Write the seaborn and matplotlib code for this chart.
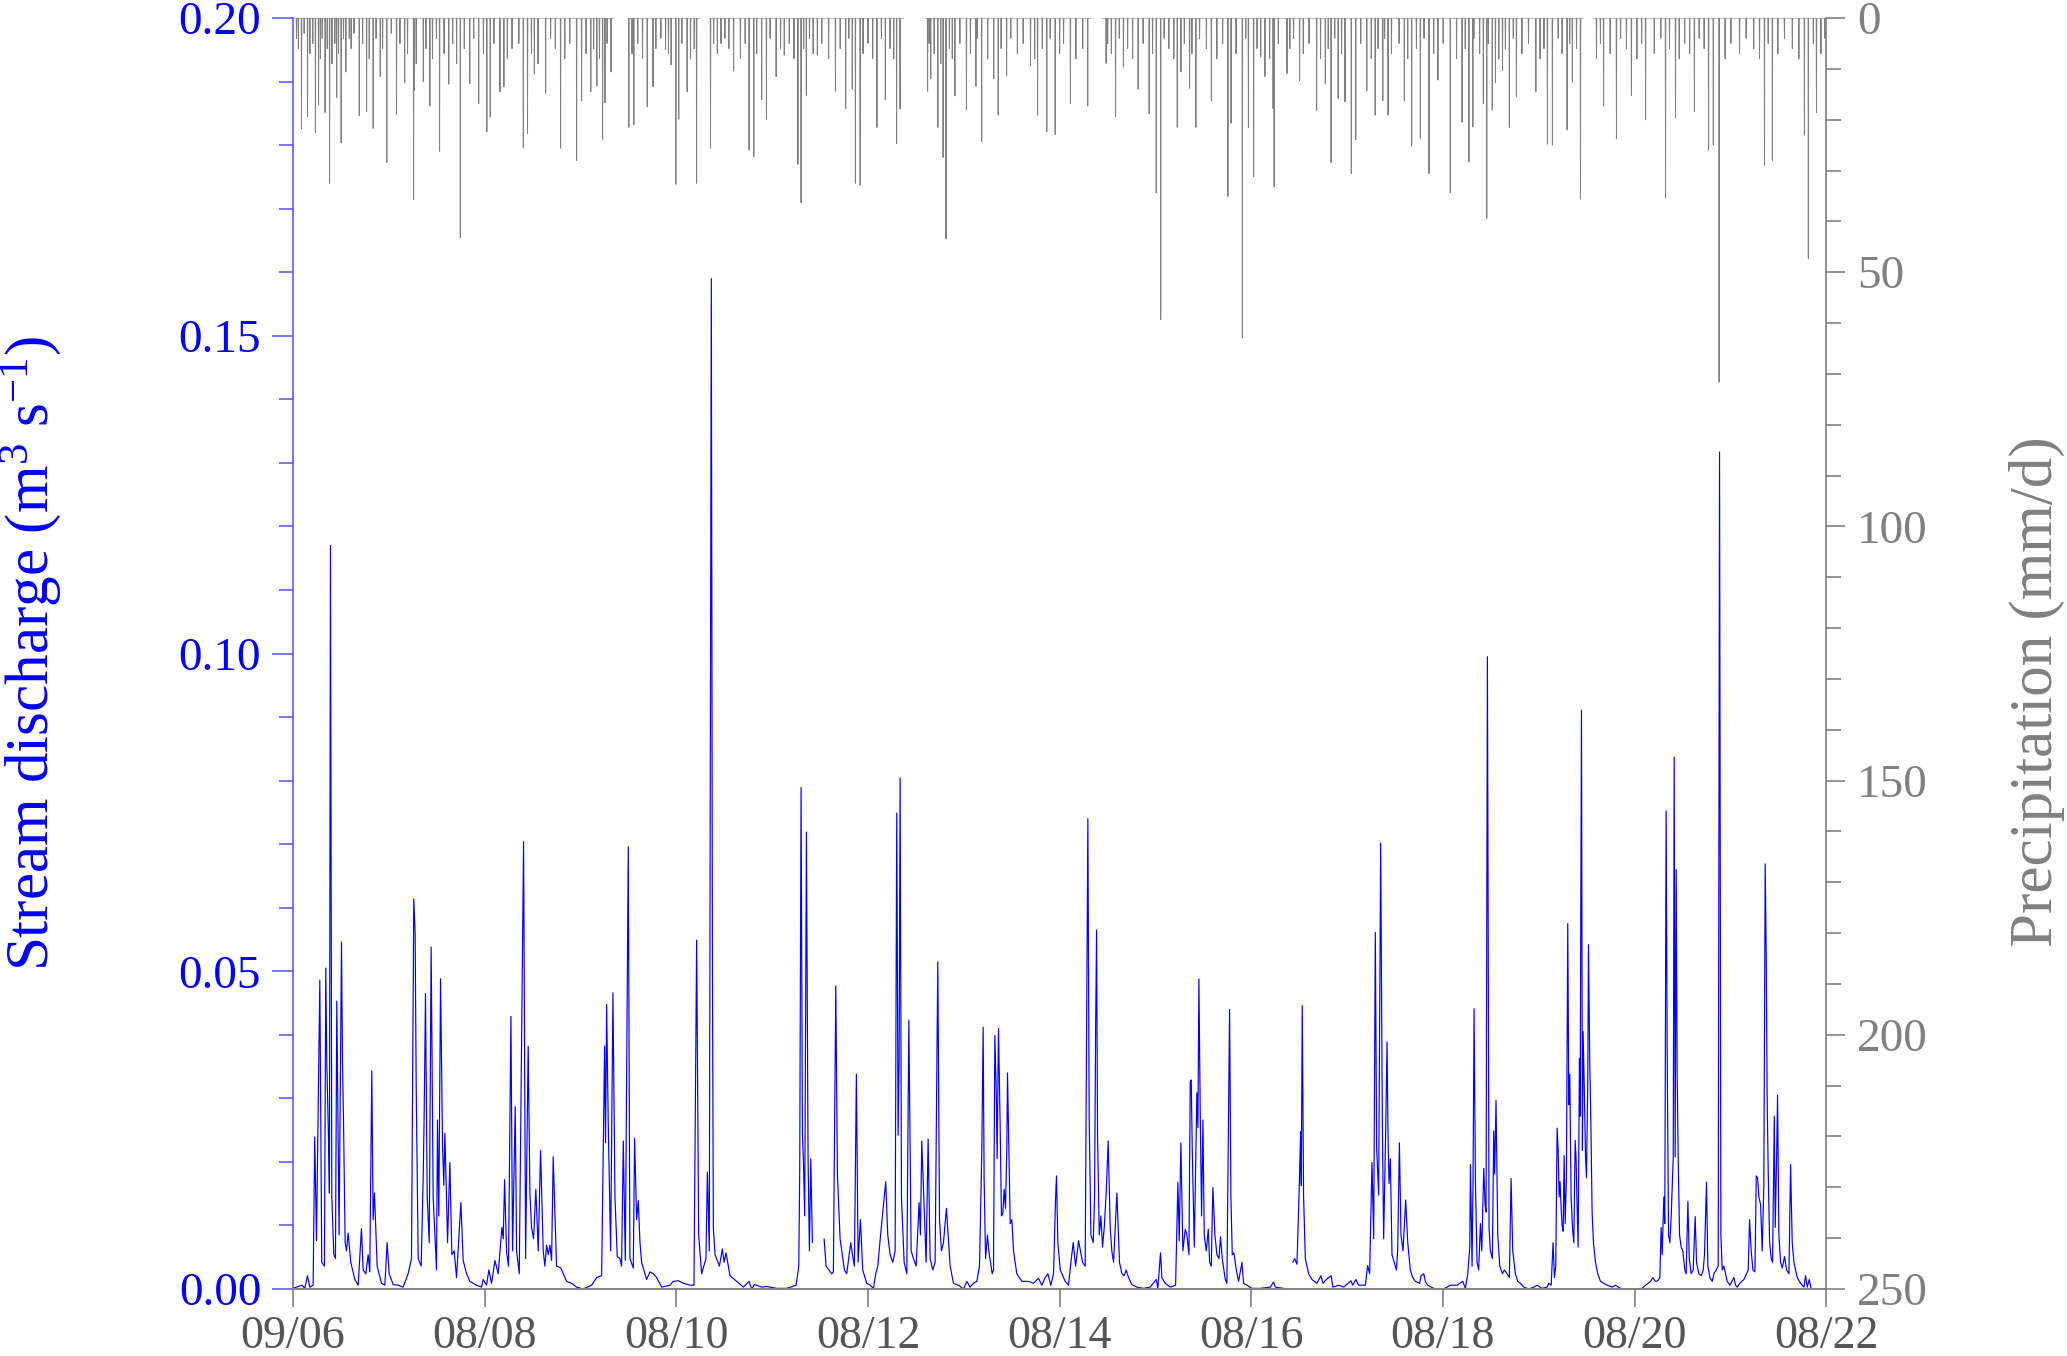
import numpy as np
import pandas as pd
import matplotlib
matplotlib.use("Agg")
from matplotlib import pyplot as plt
from matplotlib.ticker import MultipleLocator, FormatStrFormatter
import matplotlib.dates as mdates
import seaborn as sns

# stream discharge (m3/s) read off the hydrograph, time as decimal year; nan = no record
Q_YEAR = [
    2006.665, 2006.759, 2006.787, 2006.815, 2006.839, 2006.874, 2006.891, 2006.909, 2006.944, 2006.964,
    2006.992, 2007.006, 2007.017, 2007.034, 2007.044, 2007.055, 2007.069, 2007.090, 2007.107, 2007.121,
    2007.145, 2007.170, 2007.180, 2007.191, 2007.208, 2007.222, 2007.239, 2007.267, 2007.309, 2007.344,
    2007.378, 2007.396, 2007.424, 2007.448, 2007.465, 2007.486, 2007.500, 2007.514, 2007.542, 2007.587,
    2007.622, 2007.646, 2007.667, 2007.709, 2007.761, 2007.813, 2007.865, 2007.900, 2007.924, 2007.938,
    2007.949, 2007.970, 2008.001, 2008.022, 2008.032, 2008.046, 2008.064, 2008.085, 2008.105, 2008.126,
    2008.161, 2008.171, 2008.185, 2008.203, 2008.213, 2008.224, 2008.237, 2008.248, 2008.262, 2008.276,
    2008.300, 2008.321, 2008.345, 2008.370, 2008.415, 2008.439, 2008.474, 2008.509, 2008.578, 2008.631,
    2008.648, 2008.683, 2008.707, 2008.735, 2008.770, 2008.804, 2008.843, 2008.857, 2008.871, 2008.891,
    2008.912, 2008.937, 2008.954, 2008.982, 2008.996, 2009.024, 2009.069, 2009.090, 2009.117, 2009.135,
    2009.152, 2009.173, 2009.197, 2009.222, 2009.246, 2009.274, 2009.291, 2009.309, 2009.326, 2009.344,
    2009.361, 2009.378, 2009.413, 2009.458, 2009.517, 2009.570, 2009.622, 2009.691, 2009.778, 2009.831,
    2009.883, 2009.914, 2009.924, 2009.935, 2009.952, 2009.977, 2010.001, 2010.022, 2010.046, 2010.074,
    2010.091, 2010.109, 2010.130, 2010.161, 2010.178, 2010.213, 2010.227, 2010.248, 2010.265, 2010.283,
    2010.300, 2010.352, 2010.387, 2010.422, 2010.457, 2010.509, 2010.596, 2010.630, 2010.683, 2010.735,
    2010.805, 2010.846, 2010.874, 2010.895, 2010.926, 2010.971, 2010.986, 2011.006, 2011.027, 2011.038,
    2011.048, 2011.066, 2011.111, 2011.142, 2011.160, 2011.180, 2011.222, 2011.292, 2011.361, 2011.420,
    2011.448, 2011.476, 2011.552, 2011.605, 2011.709, 2011.813, 2011.911, 2011.939, 2011.949, 2011.963,
    2011.977, 2011.987, 2012.001, 2012.019, 2012.036, 2012.050, 2012.064, 2012.081, 2012.140, 2012.203,
    2012.224, 2012.283, 2012.300, 2012.325, 2012.342, 2012.370, 2012.398, 2012.415, 2012.439, 2012.481,
    2012.499, 2012.519, 2012.540, 2012.558, 2012.582, 2012.606, 2012.648, 2012.683, 2012.718, 2012.742,
    2012.763, 2012.794, 2012.846, 2012.867, 2012.892, 2012.919, 2012.944, 2012.961, 2012.975, 2012.986,
    2012.996, 2013.010, 2013.038, 2013.066, 2013.087, 2013.111, 2013.135, 2013.163, 2013.194, 2013.208,
    2013.222, 2013.267, 2013.288, 2013.309, 2013.337, 2013.361, 2013.389, 2013.407, 2013.427, 2013.448,
    2013.479, 2013.497, 2013.518, 2013.552, 2013.605, 2013.657, 2013.692, 2013.726, 2013.761, 2013.796,
    2013.824, 2013.848, 2013.862, 2013.872, 2013.887, 2013.907, 2013.921, 2013.956, 2013.970, 2013.984,
    2013.998, 2014.008, 2014.022, 2014.039, 2014.053, 2014.067, 2014.081, 2014.095, 2014.109, 2014.116,
    2014.144, 2014.161, 2014.179, 2014.213, 2014.266, 2014.335, 2014.387, 2014.439, 2014.474, 2014.509,
    2014.537, 2014.568, 2014.596, 2014.617, 2014.627, 2014.641, 2014.666, 2014.718, 2014.752, 2014.773,
    2014.801, 2014.826, 2014.857, 2014.899, 2014.926, 2014.954, 2014.968, 2014.986, 2015.010, 2015.024,
    2015.035, 2015.045, 2015.055, 2015.073, 2015.090, 2015.107, 2015.125, 2015.145, 2015.166, 2015.187,
    2015.204, 2015.222, 2015.257, 2015.284, 2015.309, 2015.333, 2015.354, 2015.378, 2015.413, 2015.465,
    2015.535, 2015.604, 2015.667, 2015.684, 2015.712, 2015.726, 2015.761, 2015.813, 2015.869, 2015.893,
    2015.907, 2015.924, 2015.945, 2015.970, 2015.987, 2016.008, 2016.022, 2016.032, 2016.043, 2016.064,
    2016.077, 2016.091, 2016.102, 2016.112, 2016.126, 2016.140, 2016.154, 2016.168, 2016.189, 2016.210,
    2016.224, 2016.241, 2016.258, 2016.279, 2016.300, 2016.321, 2016.338, 2016.356, 2016.387, 2016.404,
    2016.432, 2016.446, 2016.460, 2016.477, 2016.502, 2016.526, 2016.561, 2016.578, 2016.613, 2016.665,
    2016.752, 2016.857, 2016.891, 2016.909, 2016.996, 2017.045, 2017.093, 2017.110, 2017.135, 2017.156,
    2017.173, 2017.180, 2017.190, 2017.204, 2017.222, 2017.257, 2017.291, 2017.343, 2017.385, 2017.406,
    2017.441, 2017.490, 2017.510, 2017.570, 2017.622, 2017.698, 2017.716, 2017.750, 2017.778, 2017.848,
    2017.872, 2017.893, 2017.917, 2017.935, 2017.952, 2017.966, 2017.987, 2018.008, 2018.025, 2018.039,
    2018.060, 2018.074, 2018.085, 2018.095, 2018.109, 2018.126, 2018.144, 2018.172, 2018.185, 2018.203,
    2018.220, 2018.241, 2018.269, 2018.290, 2018.317, 2018.342, 2018.370, 2018.415, 2018.429, 2018.457,
    2018.474, 2018.498, 2018.561, 2018.665, 2018.735, 2018.805, 2018.864, 2018.891, 2018.916, 2018.937,
    2018.944, 2018.961, 2018.971, 2018.982, 2018.996, 2019.013, 2019.030, 2019.048, 2019.062, 2019.083,
    2019.097, 2019.107, 2019.121, 2019.138, 2019.152, 2019.173, 2019.187, 2019.197, 2019.211, 2019.229,
    2019.250, 2019.278, 2019.298, 2019.326, 2019.350, 2019.368, 2019.385, 2019.413, 2019.437, 2019.465,
    2019.500, 2019.552, 2019.605, 2019.639, 2019.692, 2019.744, 2019.761, 2019.786, 2019.806, 2019.820,
    2019.834, 2019.848, 2019.859, 2019.869, 2019.879, 2019.890, 2019.900, 2019.911, 2019.921, 2019.932,
    2019.945, 2019.959, 2019.970, 2019.980, 2019.994, 2020.008, 2020.022, 2020.036, 2020.046, 2020.057,
    2020.067, 2020.081, 2020.088, 2020.102, 2020.112, 2020.119, 2020.130, 2020.144, 2020.154, 2020.168,
    2020.175, 2020.189, 2020.199, 2020.213, 2020.227, 2020.248, 2020.272, 2020.300, 2020.335, 2020.370,
    2020.422, 2020.457, 2020.509, 2020.613, 2020.735, 2020.770, 2020.822, 2020.846, 2020.874, 2020.898,
    2020.919, 2020.933, 2020.944, 2020.961, 2020.971, 2020.985, 2020.996, 2021.010, 2021.024, 2021.038,
    2021.059, 2021.069, 2021.079, 2021.090, 2021.100, 2021.111, 2021.125, 2021.142, 2021.159, 2021.180,
    2021.194, 2021.212, 2021.226, 2021.246, 2021.267, 2021.288, 2021.302, 2021.326, 2021.351, 2021.372,
    2021.385, 2021.406, 2021.420, 2021.441, 2021.466, 2021.483, 2021.507, 2021.528, 2021.542, 2021.556,
    2021.570, 2021.587, 2021.605, 2021.622, 2021.650, 2021.692, 2021.709, 2021.726, 2021.754, 2021.796,
    2021.824, 2021.841, 2021.855, 2021.872, 2021.890, 2021.911, 2021.925, 2021.939, 2021.952, 2021.970,
    2021.987, 2022.004, 2022.018, 2022.029, 2022.039, 2022.050, 2022.064, 2022.081, 2022.095, 2022.113,
    2022.123, 2022.137, 2022.147, 2022.161, 2022.179, 2022.196, 2022.220, 2022.241, 2022.266, 2022.283,
    2022.300, 2022.318, 2022.352, 2022.387, 2022.422, 2022.439, 2022.457, 2022.477, 2022.498,
]
Q_VALUE = [
    0.0001, 0.0006, 0.0001, 0.0021, 0.0003, 0.0006, 0.0239, 0.0076, 0.0486, 0.0042,
    0.0036, 0.0505, 0.0353, 0.0242, 0.0151, 0.117, 0.0145, 0.0054, 0.0048, 0.0453,
    0.0085, 0.0546, 0.036, 0.0266, 0.0073, 0.006, 0.0088, 0.0042, 0.0015, 0.0006,
    0.0095, 0.003, 0.0024, 0.0054, 0.0027, 0.0343, 0.0109, 0.0151, 0.0036, 0.0009,
    0.0006, 0.0073, 0.0024, 0.0007, 0.0006, 0.0003, 0.0024, 0.0048, 0.0614, 0.056,
    0.032, 0.0048, 0.0036, 0.0175, 0.0272, 0.0465, 0.0145, 0.0073, 0.0538, 0.0145,
    0.003, 0.0266, 0.0115, 0.0488, 0.0363, 0.0224, 0.0163, 0.0245, 0.0163, 0.0073,
    0.0199, 0.0054, 0.006, 0.0018, 0.0136, 0.0045, 0.0024, 0.0012, 0.0006, 0.0003,
    0.0015, 0.0006, 0.003, 0.0009, 0.0045, 0.0024, 0.0097, 0.0079, 0.0172, 0.006,
    0.0036, 0.0429, 0.006, 0.0287, 0.006, 0.0024, 0.0704, 0.0048, 0.0382, 0.0151,
    0.0097, 0.0079, 0.0157, 0.006, 0.0218, 0.006, 0.0036, 0.0069, 0.0054, 0.0069,
    0.0045, 0.0208, 0.0036, 0.0033, 0.0012, 0.0009, 0.0003, 0.0, 0.0006, 0.0018,
    0.0021, 0.0382, 0.023, 0.0448, 0.026, 0.006, 0.0466, 0.0145, 0.0051, 0.0048,
    0.0036, 0.0233, 0.0045, 0.0696, 0.0048, 0.0033, 0.0237, 0.0109, 0.0139, 0.0073,
    0.0042, 0.0015, 0.0027, 0.0024, 0.0018, 0.0003, 0.0006, 0.0012, 0.0013, 0.0009,
    0.0006, 0.0006, 0.0549, 0.0085, 0.0024, 0.0048, 0.0184, 0.006, 0.159, 0.0541,
    0.0097, 0.0054, 0.0036, 0.0063, 0.0042, 0.0057, 0.0021, 0.0012, 0.0003, 0.0012,
    0.0, 0.0007, 0.0003, 0.0004, 0.0001, 0.0001, 0.0006, 0.0036, 0.0187, 0.0789,
    0.0245, 0.0205, 0.0115, 0.0719, 0.0205, 0.006, 0.0205, 0.0073, np.nan, 0.0079,
    0.0036, 0.0024, 0.0027, 0.0477, 0.0181, 0.0079, 0.0048, 0.003, 0.0024, 0.0073,
    0.0054, 0.0036, 0.0338, 0.0042, 0.0109, 0.003, 0.0009, 0.0006, 0.0001, 0.0024,
    0.0036, 0.0088, 0.0169, 0.0085, 0.0054, 0.0042, 0.006, 0.0749, 0.0242, 0.0366,
    0.0804, 0.0145, 0.0042, 0.0024, 0.0423, 0.006, 0.0048, 0.0036, 0.0136, 0.0085,
    0.0233, 0.0042, 0.0236, 0.0048, 0.003, 0.0042, 0.0515, 0.0109, 0.006, 0.0073,
    0.0127, 0.0085, 0.0036, 0.0009, 0.0006, 0.0, 0.0012, 0.0003, 0.0009, 0.0012,
    0.0036, 0.0218, 0.0412, 0.0175, 0.0048, 0.0085, 0.006, 0.0024, 0.003, 0.0399,
    0.0314, 0.0205, 0.041, 0.026, 0.0115, 0.0118, 0.0157, 0.0127, 0.0224, 0.034,
    0.0103, 0.0109, 0.006, 0.0024, 0.0012, 0.0012, 0.0009, 0.0017, 0.0006, 0.0018,
    0.0024, 0.0006, 0.0024, 0.0142, 0.0178, 0.0073, 0.003, 0.0012, 0.0006, 0.0036,
    0.0073, 0.0036, 0.0076, 0.0042, 0.0036, 0.074, 0.0266, 0.0085, 0.0073, 0.0145,
    0.0411, 0.0565, 0.0242, 0.0085, 0.0115, 0.0066, 0.0097, 0.0151, 0.0233, 0.0097,
    0.006, 0.0042, 0.0151, 0.0042, 0.0024, 0.0021, 0.003, 0.0018, 0.0007, 0.0003,
    0.0001, 0.0003, 0.0015, 0.0001, 0.0057, 0.0018, 0.0009, 0.0003, 0.0006, 0.0168,
    0.0076, 0.023, 0.006, 0.0094, 0.0085, 0.0054, 0.0326, 0.0329, 0.0218, 0.0066,
    0.0181, 0.0309, 0.0254, 0.0488, 0.0278, 0.0115, 0.0266, 0.0085, 0.006, 0.0094,
    0.0042, 0.0036, 0.016, 0.0085, 0.0054, 0.0048, 0.0082, 0.0048, 0.0015, 0.0009,
    0.044, 0.0145, 0.0054, 0.0057, 0.003, 0.0012, 0.0042, 0.0009, 0.0006, 0.0001,
    0.0001, 0.0003, 0.0011, 0.0003, 0.0001, np.nan, 0.0042, 0.0048, 0.0039, 0.0145,
    0.0248, 0.0163, 0.0446, 0.0145, 0.0048, 0.0024, 0.0015, 0.0009, 0.0021, 0.0009,
    0.0015, 0.0021, 0.0003, 0.0006, 0.0003, 0.0013, 0.0006, 0.0015, 0.0006, 0.0006,
    0.0037, 0.0024, 0.0199, 0.0079, 0.0561, 0.0221, 0.0148, 0.0702, 0.0266, 0.0079,
    0.0248, 0.0389, 0.0236, 0.0166, 0.0205, 0.0054, 0.0045, 0.003, 0.006, 0.023,
    0.0085, 0.006, 0.014, 0.0073, 0.003, 0.0018, 0.0012, 0.0009, 0.0021, 0.0024,
    0.0012, 0.0006, 0.0001, 0.0, 0.0006, 0.0006, 0.0012, 0.0001, 0.0024, 0.0066,
    0.0196, 0.0036, 0.0169, 0.0441, 0.0169, 0.0042, 0.003, 0.0103, 0.006, 0.019,
    0.0133, 0.0121, 0.0995, 0.0097, 0.006, 0.0048, 0.0249, 0.0181, 0.0297, 0.0085,
    0.0036, 0.0024, 0.003, 0.0024, 0.0018, 0.0174, 0.006, 0.0024, 0.0012, 0.0009,
    0.0003, 0.0, 0.0003, 0.0006, 0.0001, 0.0003, 0.0009, 0.0006, 0.0073, 0.0018,
    0.0036, 0.0253, 0.0218, 0.0145, 0.0169, 0.0127, 0.01, 0.0091, 0.021, 0.0103,
    0.0175, 0.0575, 0.029, 0.0338, 0.0145, 0.0097, 0.0073, 0.0234, 0.0205, 0.0127,
    0.0066, 0.0363, 0.0272, 0.0911, 0.0218, 0.0405, 0.0326, 0.0211, 0.0175, 0.0326,
    0.0542, 0.0353, 0.0272, 0.0121, 0.0073, 0.0042, 0.0024, 0.0012, 0.0009, 0.0006,
    0.0003, 0.0006, 0.0001, 0.0, 0.0001, 0.0006, 0.0012, 0.0018, 0.0012, 0.0013,
    0.0018, 0.0097, 0.0054, 0.0145, 0.0103, 0.0752, 0.0369, 0.0085, 0.0073, 0.0115,
    0.0208, 0.0837, 0.0208, 0.066, 0.0338, 0.0205, 0.0085, 0.0066, 0.006, 0.003,
    0.0024, 0.0138, 0.0048, 0.0024, 0.003, 0.0114, 0.0042, 0.0024, 0.0021, 0.003,
    0.0054, 0.0168, 0.0036, 0.0018, 0.0012, 0.0024, 0.003, 0.0036, 0.1317, 0.0085,
    0.003, 0.0036, 0.0024, 0.0012, 0.0006, 0.0018, 0.0006, 0.0003, 0.0009, 0.0015,
    0.0024, 0.003, 0.0109, 0.006, 0.003, 0.0027, 0.0178, 0.0175, 0.0145, 0.0133,
    0.006, 0.0163, 0.0669, 0.052, 0.0296, 0.0181, 0.0073, 0.0048, 0.0042, 0.0272,
    0.0097, 0.0205, 0.0305, 0.0085, 0.0042, 0.0033, 0.0051, 0.003, 0.0024, 0.0196,
    0.0073, 0.0042, 0.0018, 0.0009, 0.0003, 0.0021, 0.0003, 0.0015, 0.0,
]

# daily precipitation (mm/d), the rain days that stand out
P_YEAR = [
    2006.753, 2006.817, 2006.899, 2006.931, 2007.000, 2007.045, 2007.121, 2007.167, 2007.215, 2007.251,
    2007.354, 2007.431, 2007.500, 2007.573, 2007.642, 2007.743, 2007.828, 2007.921, 2007.930, 2008.023,
    2008.091, 2008.194, 2008.288, 2008.409, 2008.507, 2008.600, 2008.685, 2008.722, 2008.823, 2008.864,
    2009.067, 2009.111, 2009.181, 2009.298, 2009.456, 2009.623, 2009.675, 2009.769, 2009.834, 2009.894,
    2009.919, 2009.980, 2010.167, 2010.220, 2010.358, 2010.418, 2010.549, 2010.609, 2010.658, 2010.686,
    2010.776, 2010.873, 2011.019, 2011.129, 2011.259, 2011.421, 2011.470, 2011.552, 2011.601, 2011.702,
    2011.787, 2011.929, 2011.962, 2012.018, 2012.132, 2012.323, 2012.428, 2012.498, 2012.530, 2012.578,
    2012.754, 2012.843, 2012.960, 2012.995, 2013.284, 2013.316, 2013.390, 2013.445, 2013.474, 2013.568,
    2013.688, 2013.787, 2013.848, 2013.972, 2014.018, 2014.108, 2014.356, 2014.431, 2014.526, 2014.612,
    2014.773, 2014.954, 2015.144, 2015.244, 2015.326, 2015.478, 2015.594, 2015.668, 2015.714, 2015.886,
    2015.924, 2016.015, 2016.081, 2016.241, 2016.416, 2016.448, 2016.564, 2016.629, 2016.684, 2016.758,
    2016.802, 2016.886, 2016.898, 2017.030, 2017.162, 2017.340, 2017.431, 2017.492, 2017.566, 2017.636,
    2017.702, 2017.748, 2017.864, 2017.950, 2018.029, 2018.086, 2018.255, 2018.330, 2018.421, 2018.512,
    2018.606, 2018.734, 2018.858, 2018.928, 2018.969, 2019.080, 2019.114, 2019.171, 2019.205, 2019.278,
    2019.349, 2019.424, 2019.626, 2019.748, 2019.800, 2019.951, 2020.008, 2020.091, 2020.332, 2020.467,
    2020.624, 2020.770, 2020.979, 2021.083, 2021.281, 2021.427, 2021.476, 2021.538, 2022.011, 2022.094,
    2022.428, 2022.469, 2022.553,
]
P_MM = [
    21.7, 19.4, 22.5, 17.0, 18.6, 32.5, 15.6, 24.5, 10.6, 4.0,
    19.2, 18.4, 21.7, 11.5, 28.4, 18.9, 12.7, 35.7, 14.2, 12.5,
    17.3, 26.2, 13.0, 43.2, 12.9, 16.8, 22.4, 19.5, 14.5, 13.5,
    25.5, 22.7, 11.0, 14.8, 25.6, 28.0, 16.3, 14.5, 13.4, 23.9,
    16.7, 10.6, 21.5, 21.0, 17.4, 13.5, 6.2, 9.2, 32.7, 19.9,
    14.5, 32.5, 25.6, 5.0, 10.4, 26.0, 27.3, 16.1, 19.9, 11.5,
    7.3, 28.8, 36.3, 15.2, 7.3, 14.4, 17.8, 14.0, 32.5, 32.9,
    21.5, 16.1, 24.7, 17.9, 14.4, 11.9, 21.5, 27.4, 43.4, 15.3,
    18.1, 13.4, 24.3, 11.9, 19.1, 11.4, 9.4, 19.1, 22.4, 22.9,
    16.8, 17.3, 8.9, 19.4, 9.6, 14.0, 18.8, 34.4, 59.3, 21.5,
    10.6, 13.8, 21.5, 16.3, 35.1, 20.7, 62.9, 21.5, 31.2, 7.6,
    11.5, 17.8, 33.2, 10.9, 12.3, 18.2, 12.9, 28.4, 15.8, 16.5,
    30.6, 23.9, 14.3, 19.1, 16.3, 19.1, 16.3, 25.1, 23.7, 30.6,
    12.2, 34.4, 20.5, 28.3, 21.4, 16.8, 39.4, 18.1, 12.7, 10.3,
    21.5, 15.4, 14.5, 24.8, 25.0, 22.0, 12.5, 35.6, 17.2, 23.7,
    15.2, 20.0, 35.4, 19.6, 18.4, 26.0, 25.0, 71.6, 29.0, 28.0,
    23.0, 47.3, 18.6,
]

# the light rain days that fill the band under the zero line
P_LIGHT_YEAR = [
    2006.70, 2006.72, 2006.78, 2006.84, 2006.87, 2006.95, 2006.97,
    2007.02, 2007.07, 2007.10, 2007.14, 2007.19, 2007.27, 2007.30, 2007.39, 2007.46, 2007.53,
    2007.60, 2007.69, 2007.78, 2007.86, 2007.95,
    2008.05, 2008.12, 2008.16, 2008.24, 2008.33, 2008.37, 2008.45, 2008.55, 2008.65, 2008.76,
    2008.90, 2008.95,
    2009.02, 2009.15, 2009.22, 2009.35, 2009.40, 2009.50, 2009.55, 2009.72, 2009.80, 2009.86, 2009.94,
    2010.20, 2010.26, 2010.31, 2010.45, 2010.50, 2010.58, 2010.72, 2010.81, 2010.85,
    2011.05, 2011.09, 2011.17, 2011.21, 2011.33, 2011.38, 2011.50, 2011.64, 2011.75, 2011.84,
    2011.89, 2011.99,
    2012.05, 2012.09, 2012.18, 2012.25, 2012.37, 2012.46, 2012.61, 2012.66, 2012.71, 2012.80,
    2012.89, 2012.93,
    2013.30, 2013.35, 2013.42, 2013.51, 2013.54, 2013.62, 2013.73, 2013.80, 2013.91,
    2014.05, 2014.15, 2014.22, 2014.28, 2014.40, 2014.48, 2014.56, 2014.66, 2014.70, 2014.83, 2014.90,
    2015.16, 2015.20, 2015.28, 2015.37, 2015.42, 2015.53, 2015.63, 2015.75, 2015.80, 2015.85, 2015.96,
    2016.04, 2016.12, 2016.19, 2016.30, 2016.36, 2016.50, 2016.60, 2016.72, 2016.85, 2016.94,
    2017.06, 2017.10, 2017.20, 2017.26, 2017.38, 2017.46, 2017.53, 2017.60, 2017.80, 2017.91, 2017.98,
    2018.05, 2018.12, 2018.20, 2018.29, 2018.38, 2018.46, 2018.56, 2018.66, 2018.80, 2018.89, 2018.98,
    2019.04, 2019.13, 2019.24, 2019.31, 2019.39, 2019.48, 2019.55, 2019.67, 2019.71, 2019.86,
    2019.90, 2019.98,
    2020.05, 2020.26, 2020.30, 2020.40, 2020.51, 2020.57, 2020.68, 2020.73, 2020.86, 2020.93,
    2021.02, 2021.12, 2021.18, 2021.23, 2021.33, 2021.38, 2021.60, 2021.66, 2021.75, 2021.82,
    2021.90, 2021.96,
    2022.05, 2022.15, 2022.22, 2022.30, 2022.37, 2022.52, 2022.60, 2022.64,
]
P_LIGHT_MM = [
    4, 6, 3, 7, 5, 8, 4,
    6, 9, 5, 7, 4, 6, 3, 5, 8, 4,
    6, 3, 5, 7, 9,
    6, 8, 4, 7, 5, 9, 6, 4, 7, 5,
    8, 6,
    5, 7, 9, 4, 6, 8, 5, 7, 6, 8, 5,
    7, 5, 8, 6, 4, 7, 5, 8, 6,
    5, 7, 4, 6, 8, 5, 7, 4, 6, 5,
    8, 6,
    4, 7, 5, 8, 6, 4, 7, 5, 8, 4,
    6, 8,
    5, 7, 9, 6, 8, 5, 7, 4, 8,
    6, 4, 7, 5, 8, 6, 4, 7, 5, 8, 6,
    5, 7, 4, 6, 8, 5, 7, 4, 6, 8, 5,
    7, 4, 6, 8, 5, 7, 4, 6, 8, 5,
    6, 4, 7, 5, 8, 6, 4, 7, 5, 8, 6,
    4, 7, 5, 8, 6, 4, 7, 5, 8, 6, 4,
    7, 5, 8, 6, 4, 7, 5, 8, 6, 4,
    7, 5,
    6, 8, 5, 7, 4, 6, 8, 5, 7, 4,
    6, 8, 5, 7, 4, 6, 8, 5, 7, 4,
    6, 8,
    5, 7, 4, 6, 8, 5, 7, 4,
]

# spans with no precipitation record
P_GAP_START = [2010.008, 2010.909, 2013.035, 2014.988, 2020.123]
P_GAP_END = [2010.154, 2011.008, 2013.255, 2015.098, 2020.228]

START = pd.Timestamp("2006-09-01")
N_DAYS = 5840
TICK_DAYS = 730

BLUE = "#0000ff"
AXIS_BLUE = "#5f5fff"
GREY = "#808080"
DARK_GREY = "#555555"


def to_date(years):
    years = np.asarray(years, dtype=float)
    return pd.Timestamp("2006-01-01") + pd.to_timedelta((years - 2006.0) * 365.25, unit="D")


def with_segments(df, col):
    # a new segment after each missing value, so lines break at gaps
    df = df.copy()
    df["seg"] = df[col].isna().cumsum()
    return df.dropna(subset=[col])


# discharge table
q_df = pd.DataFrame({"date": to_date(Q_YEAR), "q": Q_VALUE})
q_df = with_segments(q_df, "q")

# daily precipitation table
days = pd.date_range(START, START + pd.Timedelta(days=N_DAYS), freq="D")
precip = pd.Series(0.0, index=days)
events = pd.DataFrame({
    "date": to_date(list(P_YEAR) + list(P_LIGHT_YEAR)).round("D"),
    "mm": list(P_MM) + list(P_LIGHT_MM),
}).groupby("date")["mm"].max()
events = events[events.index.isin(precip.index)]
precip.loc[events.index] = events.values
for g0, g1 in zip(P_GAP_START, P_GAP_END):
    precip[(precip.index > to_date(g0)) & (precip.index < to_date(g1))] = np.nan
p_df = with_segments(precip.rename("p").rename_axis("date").reset_index(), "p")

sns.set_theme(style="ticks")
plt.rcParams["font.family"] = ["Liberation Serif", "DejaVu Serif"]
plt.rcParams["mathtext.fontset"] = "custom"
plt.rcParams["mathtext.rm"] = "Liberation Serif"
plt.rcParams["mathtext.it"] = "Liberation Serif:italic"

fig = plt.figure(figsize=(20.67, 13.56), dpi=100)
ax = fig.add_axes([0.1418, 0.0494, 0.7417, 0.9373])
ax2 = ax.twinx()

sns.lineplot(data=q_df, x="date", y="q", units="seg", estimator=None,
             color=BLUE, linewidth=0.85, ax=ax, legend=False)
sns.lineplot(data=p_df, x="date", y="p", units="seg", estimator=None,
             color=GREY, linewidth=0.7, ax=ax2, legend=False)

# x axis: one tick every 730 days from the first day
ax.set_xlim(START, START + pd.Timedelta(days=N_DAYS))
ax.set_xticks([START + pd.Timedelta(days=TICK_DAYS * k) for k in range(N_DAYS // TICK_DAYS + 1)])
ax.xaxis.set_major_formatter(mdates.DateFormatter("%m/%y"))
ax.set_xlabel("")
ax.tick_params(axis="x", length=13, width=1.2, color=GREY, labelcolor=DARK_GREY,
               labelsize=33, pad=6)

# left axis: discharge
ax.set_ylim(0, 0.2)
ax.yaxis.set_major_locator(MultipleLocator(0.05))
ax.yaxis.set_minor_locator(MultipleLocator(0.01))
ax.yaxis.set_major_formatter(FormatStrFormatter("%.2f"))
ax.tick_params(axis="y", which="major", length=15, width=1.2, color=AXIS_BLUE,
               labelcolor=BLUE, labelsize=34, pad=8)
ax.tick_params(axis="y", which="minor", length=10, width=1.2, color=AXIS_BLUE)
ax.set_ylabel(r"Stream discharge (m$^{3}$ s$^{\mathrm{-}1}$)", color=BLUE, fontsize=44)
ax.yaxis.set_label_coords(-0.150, 0.5)

# right axis: precipitation, hanging from the top
ax2.set_ylim(250, 0)
ax2.yaxis.set_major_locator(MultipleLocator(50))
ax2.yaxis.set_minor_locator(MultipleLocator(10))
ax2.tick_params(axis="y", which="major", length=14, width=1.2, color=GREY,
                labelcolor=GREY, labelsize=34, pad=8)
ax2.tick_params(axis="y", which="minor", length=11, width=1.2, color=GREY)
ax2.set_ylabel("Precipitation (mm/d)", color=GREY, fontsize=44)
ax2.yaxis.set_label_coords(1.119, 0.47)

for a in (ax, ax2):
    a.spines["top"].set_visible(False)
    a.spines["bottom"].set_color(GREY)
    a.spines["bottom"].set_linewidth(1.2)
    a.grid(False)
ax.spines["left"].set_color(AXIS_BLUE)
ax.spines["left"].set_linewidth(1.2)
ax.spines["right"].set_visible(False)
ax2.spines["left"].set_visible(False)
ax2.spines["right"].set_color(GREY)
ax2.spines["right"].set_linewidth(1.2)

fig.savefig("out.png", dpi=100)
